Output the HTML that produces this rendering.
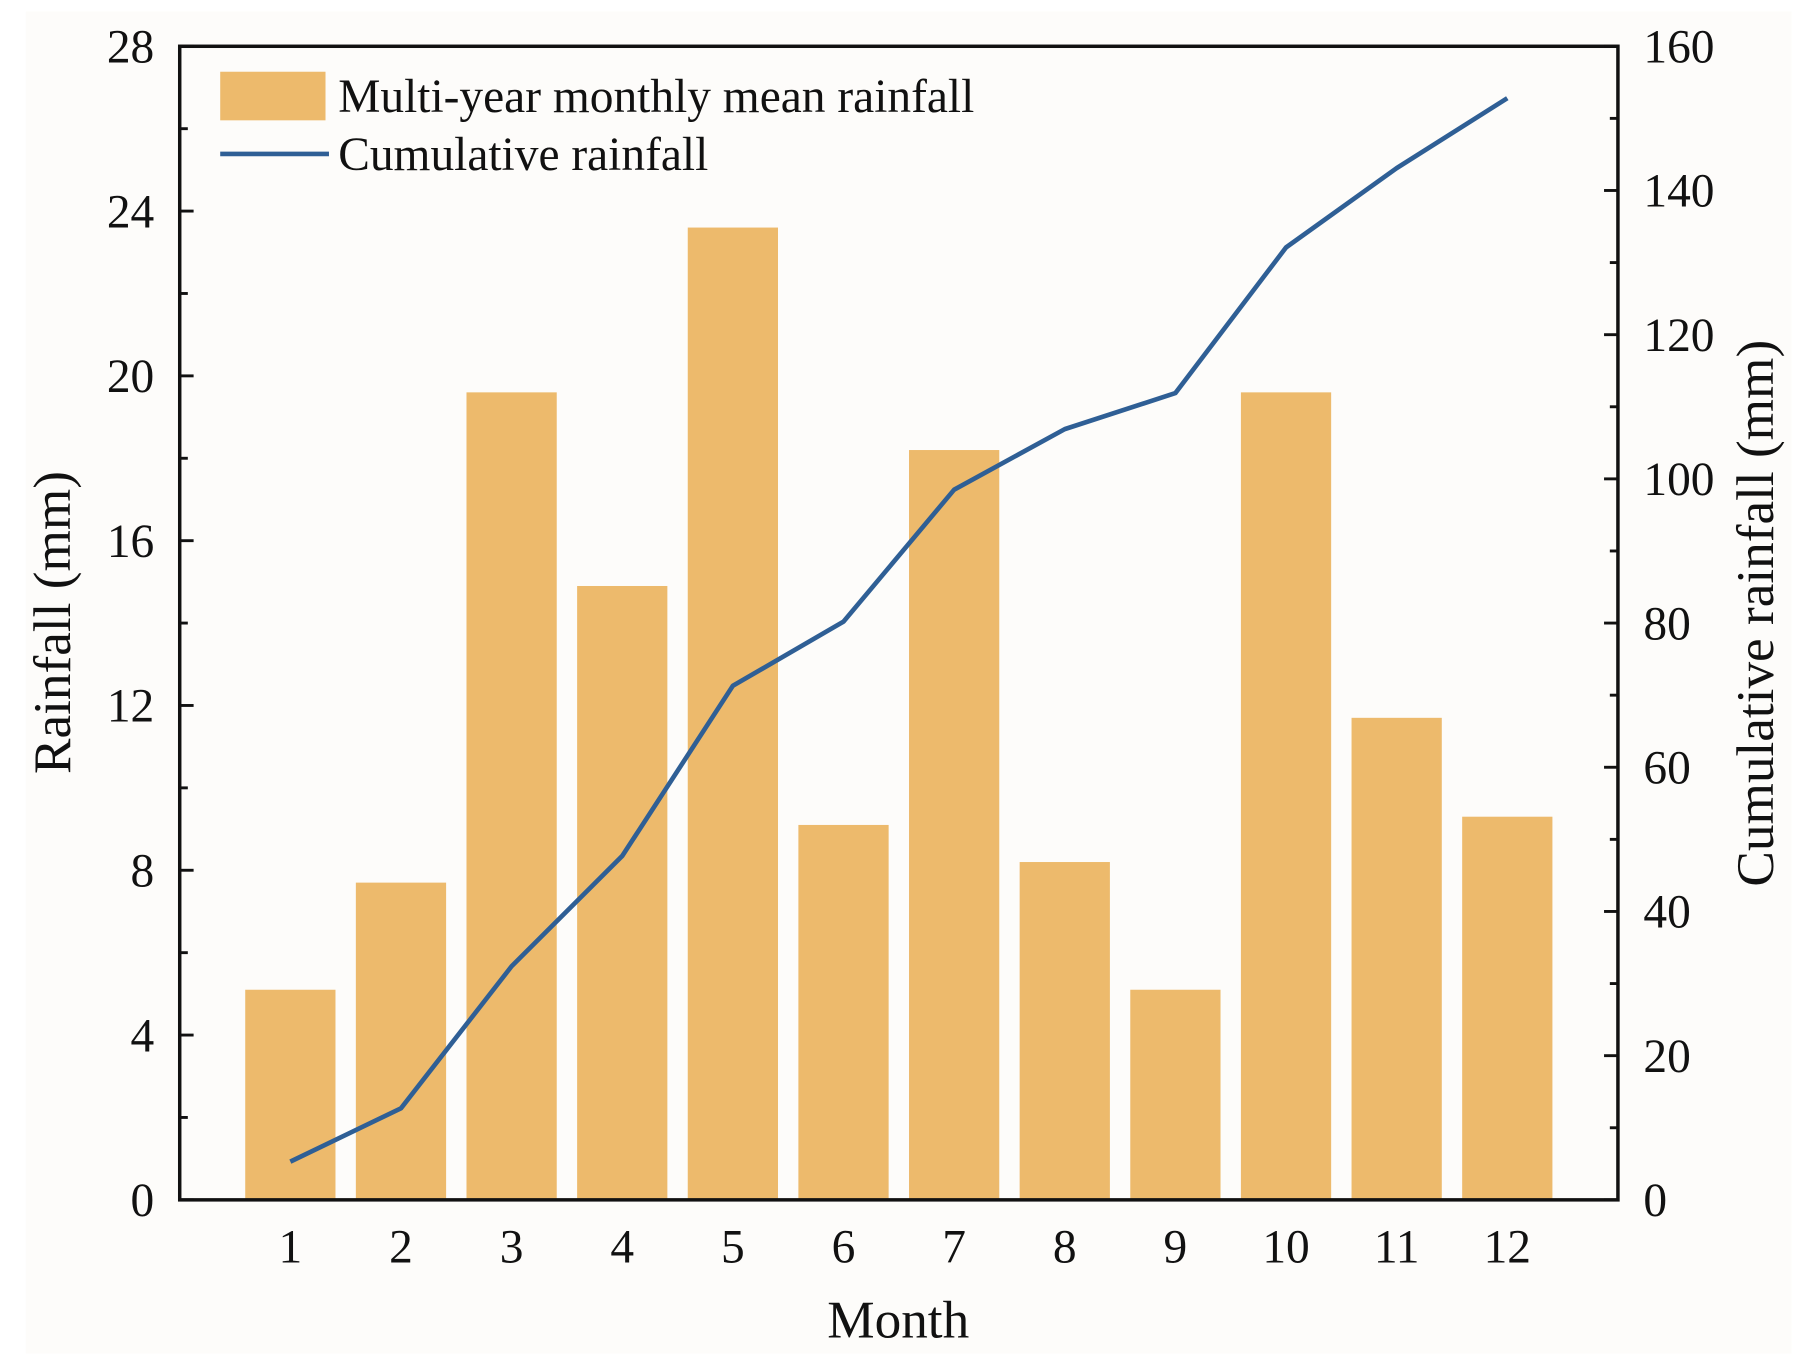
<!DOCTYPE html>
<html><head><meta charset="utf-8"><style>
html,body{margin:0;padding:0;background:#fff;}
svg{display:block;font-family:"Liberation Serif",serif;}
</style></head><body>
<svg id="chart" width="1815" height="1363" viewBox="0 0 1568 1178" xmlns="http://www.w3.org/2000/svg">
<rect x="0" y="0" width="1568" height="1178" fill="#ffffff"/>
<rect x="22" y="10" width="1526" height="1160" fill="#fdfcfa"/>
<g id="plot"></g>
</svg>
<script>
const months = ['1','2','3','4','5','6','7','8','9','10','11','12'];
const monthlyRain = [5.1, 7.7, 19.6, 14.9, 23.6, 9.1, 18.2, 8.2, 5.1, 19.6, 11.7, 9.3];
const cumulativeRain = [5.3, 12.7, 32.4, 47.7, 71.3, 80.2, 98.5, 106.9, 111.9, 132.1, 143.1, 152.8];
const leftTicks = [0, 4, 8, 12, 16, 20, 24, 28];
const rightTicks = [0, 20, 40, 60, 80, 100, 120, 140, 160];

const NS = 'http://www.w3.org/2000/svg';
const L = 155, R = 1398, T = 40, B = 1037;
const xPos = i => L + (i + 1) * (R - L) / 13;
const yL = v => B - v / 28 * (B - T);
const yR = v => B - v / 160 * (B - T);
const g = document.getElementById('plot');
function mk(tag, attrs, parent) {
  const e = document.createElementNS(NS, tag);
  for (const k in attrs) e.setAttribute(k, attrs[k]);
  (parent || g).appendChild(e);
  return e;
}
const bw = 78;
monthlyRain.forEach((v, i) => {
  const r = mk('rect', {x: xPos(i) - bw / 2, y: yL(v), width: bw, height: B - yL(v), fill: '#EDBA6C'});
  
  
});
const pts = cumulativeRain.map((v, i) => xPos(i) + ',' + yR(v)).join(' ');
const line = mk('polyline', {points: pts, fill: 'none', stroke: '#2F5F95', 'stroke-width': 4, 'stroke-linejoin': 'round'});


const frame = mk('rect', {x: L, y: T, width: R - L, height: B - T, fill: 'none', stroke: '#111', 'stroke-width': 3});


for (let v = 0; v <= 28; v += 2) {
  const len = v % 4 === 0 ? 12 : 7;
  mk('line', {x1: L, x2: L + len, y1: yL(v), y2: yL(v), stroke: '#111', 'stroke-width': 2.5});
}
leftTicks.forEach(v => {
  const t = mk('text', {x: L - 22, y: yL(v) + 14, 'text-anchor': 'end', 'font-size': 41, fill: '#111'});
  t.textContent = v;
  
  
});
for (let v = 0; v <= 160; v += 10) {
  const len = v % 20 === 0 ? 12 : 7;
  mk('line', {x1: R - len, x2: R, y1: yR(v), y2: yR(v), stroke: '#111', 'stroke-width': 2.5});
}
rightTicks.forEach(v => {
  const t = mk('text', {x: R + 22, y: yR(v) + 14, 'text-anchor': 'start', 'font-size': 41, fill: '#111'});
  t.textContent = v;
  
  
});
months.forEach((m, i) => {
  const t = mk('text', {x: xPos(i), y: 1091, 'text-anchor': 'middle', 'font-size': 41, fill: '#111'});
  t.textContent = m;
  
  
});
const xt = mk('text', {x: 776, y: 1156, 'text-anchor': 'middle', 'font-size': 46, fill: '#111'});
xt.textContent = 'Month';


const yt = mk('text', {x: 0, y: 0, 'text-anchor': 'middle', 'font-size': 46, fill: '#111', transform: 'translate(60,538) rotate(-90)'});
yt.textContent = 'Rainfall (mm)';


const yt2 = mk('text', {x: 0, y: 0, 'text-anchor': 'middle', 'font-size': 46, fill: '#111', transform: 'translate(1532,530) rotate(-90)'});
yt2.textContent = 'Cumulative rainfall (mm)';


const lg = mk('g', {});


const sw = mk('rect', {x: 190, y: 62, width: 91, height: 42, fill: '#EDBA6C'}, lg);


const t1 = mk('text', {x: 292, y: 97, 'font-size': 41, fill: '#111'}, lg);
t1.textContent = 'Multi-year monthly mean rainfall';


const sl = mk('line', {x1: 190, x2: 284, y1: 133, y2: 133, stroke: '#2F5F95', 'stroke-width': 4}, lg);


const t2 = mk('text', {x: 292, y: 147, 'font-size': 41, fill: '#111'}, lg);
t2.textContent = 'Cumulative rainfall';


</script>
</body></html>
